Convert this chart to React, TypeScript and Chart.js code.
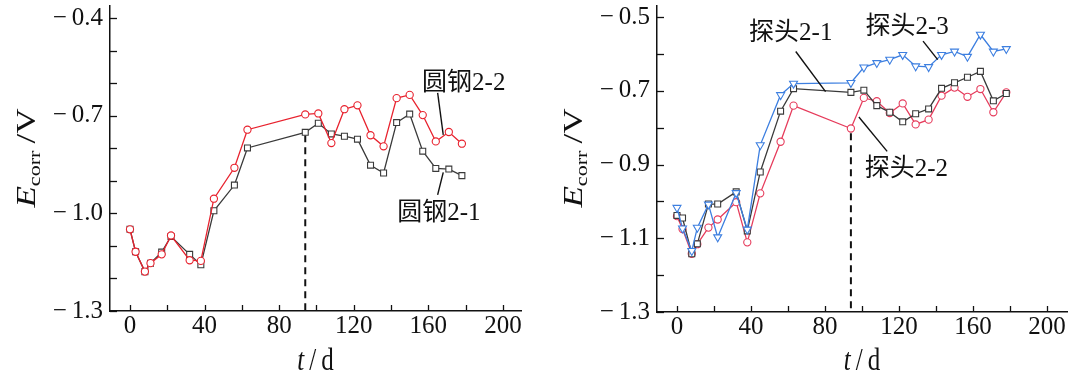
import React, { useEffect, useRef } from 'react';
import { Chart, registerables } from 'chart.js';

Chart.register(...registerables);

// ---------- data ----------
const DAYS = [0, 3, 8, 11, 17, 22, 32, 38, 45, 56, 63, 94, 101, 108, 115, 122, 129, 136, 143, 150, 157, 164, 171, 178];

const STEEL_2_1 = [-1.049, -1.118, -1.179, -1.153, -1.119, -1.071, -1.126, -1.158, -0.992, -0.913, -0.799, -0.751, -0.723, -0.756, -0.763, -0.772, -0.852, -0.876, -0.721, -0.695, -0.809, -0.862, -0.864, -0.884];
const STEEL_2_2 = [-1.049, -1.118, -1.179, -1.153, -1.126, -1.068, -1.144, -1.146, -0.955, -0.86, -0.743, -0.696, -0.693, -0.784, -0.68, -0.668, -0.76, -0.794, -0.646, -0.636, -0.698, -0.779, -0.75, -0.786];

const PROBE_2_1 = [-1.038, -1.045, -1.142, -1.115, -1.007, -1.007, -0.974, -1.08, -0.92, -0.755, -0.694, -0.704, -0.698, -0.74, -0.758, -0.784, -0.762, -0.749, -0.693, -0.678, -0.663, -0.647, -0.727, -0.707];
const PROBE_2_2 = [-1.04, -1.075, -1.142, -1.116, -1.071, -1.049, -1.002, -1.111, -0.978, -0.838, -0.74, -0.802, -0.719, -0.728, -0.76, -0.734, -0.791, -0.778, -0.713, -0.691, -0.716, -0.695, -0.758, -0.704];
const PROBE_2_3 = [-1.017, -1.073, -1.134, -1.071, -1.008, -1.097, -0.977, -1.076, -0.847, -0.711, -0.68, -0.678, -0.636, -0.624, -0.615, -0.602, -0.633, -0.635, -0.602, -0.593, -0.607, -0.547, -0.593, -0.586];

const DASH_DAY = 94;
const LEFT_DASH_V = [-0.76, -1.3];
const RIGHT_DASH_V = [-0.815, -1.3];

const X_TICKS = [0, 20, 40, 60, 80, 100, 120, 140, 160, 180, 200];
const X_LABELS = [0, 40, 80, 120, 160, 200];
const LEFT_Y_TICKS = [-0.4, -0.5, -0.6, -0.7, -0.8, -0.9, -1.0, -1.1, -1.2, -1.3];
const LEFT_Y_LABELS = [-0.4, -0.7, -1.0, -1.3];
const RIGHT_Y_TICKS = [-0.5, -0.6, -0.7, -0.8, -0.9, -1.0, -1.1, -1.2, -1.3];
const RIGHT_Y_LABELS = [-0.5, -0.7, -0.9, -1.1, -1.3];

const LEFT_NOTES = [
  { text: '圆钢2-2', t: 179, v: -0.602, line: [165, -0.63, 168, -0.759] },
  { text: '圆钢2-1', t: 165.7, v: -1.0, line: [165, -0.943, 168, -0.874] },
];
const RIGHT_NOTES = [
  { text: '探头2-1', t: 61.5, v: -0.544, line: [64.2, -0.593, 80.3, -0.702] },
  { text: '探头2-3', t: 124.4, v: -0.527, line: [133, -0.565, 140.9, -0.615] },
  { text: '探头2-2', t: 124, v: -0.913, line: [98.3, -0.771, 113.6, -0.864] },
];

// ---------- styling ----------
const SERIF = '"Liberation Serif", "Times New Roman", serif';
const RED_L = '#e8222e';
const RED_R = '#e63c5c';
const BLACK = '#3a3a3a';
const BLUE = '#3d7fe0';
const W = 540;
const H = 373;

const near = (a: number, b: number) => Math.abs(a - b) < 1e-6;
const fmtY = (v: number) => '\u2212\u2009' + Math.abs(v).toFixed(1);

function series(label: string, values: number[], color: string, style: string, radius: number, rotation = 0) {
  return {
    label,
    data: DAYS.map((d, i) => ({ x: d, y: values[i] })),
    borderColor: color,
    backgroundColor: color,
    borderWidth: 1.3,
    pointStyle: style,
    pointRadius: radius,
    pointRotation: rotation,
    pointBorderColor: color,
    pointBackgroundColor: '#ffffff',
    pointBorderWidth: 1.1,
    tension: 0,
  };
}

function dashSet(vals: number[]) {
  return {
    label: 'dash',
    data: vals.map((v) => ({ x: DASH_DAY, y: v })),
    borderColor: '#111',
    borderWidth: 2,
    borderDash: [7, 5],
    pointRadius: 0,
  };
}

function decoPlugin(notes: any[]) {
  return {
    id: 'deco',
    afterDatasetsDraw(chart: any) {
      const ctx = chart.ctx;
      const xs = chart.scales.x;
      const ys = chart.scales.y;
      const a = chart.chartArea;
      ctx.save();
      ctx.strokeStyle = '#111';
      ctx.lineWidth = 1.3;
      xs.ticks.forEach((tk: any) => {
        const px = Math.round(xs.getPixelForValue(tk.value)) + 0.5;
        ctx.beginPath();
        ctx.moveTo(px, a.bottom);
        ctx.lineTo(px, a.bottom - 6);
        ctx.stroke();
      });
      ys.ticks.forEach((tk: any) => {
        const py = Math.round(ys.getPixelForValue(tk.value)) + 0.5;
        ctx.beginPath();
        ctx.moveTo(a.left, py);
        ctx.lineTo(a.left + 7, py);
        ctx.stroke();
      });
      // annotations
      ctx.fillStyle = '#111';
      ctx.font = '25px ' + SERIF + ', "Noto Sans CJK SC"';
      ctx.textAlign = 'center';
      ctx.textBaseline = 'middle';
      ctx.lineWidth = 1.4;
      notes.forEach((n) => {
        ctx.fillText(n.text, xs.getPixelForValue(n.t), ys.getPixelForValue(n.v));
        const [t1, v1, t2, v2] = n.line;
        ctx.beginPath();
        ctx.moveTo(xs.getPixelForValue(t1), ys.getPixelForValue(v1));
        ctx.lineTo(xs.getPixelForValue(t2), ys.getPixelForValue(v2));
        ctx.stroke();
      });
      ctx.restore();
    },
    afterDraw(chart: any) {
      const ctx = chart.ctx;
      const a = chart.chartArea;
      ctx.save();
      ctx.fillStyle = '#111';
      // y title
      const cx = a.left - 84;
      const cy = 158;
      ctx.translate(cx, cy);
      ctx.rotate(-Math.PI / 2);
      ctx.scale(1.3, 1);
      const parts = [
        { t: 'E', f: 'italic 27px ' + SERIF, dy: 0 },
        { t: 'corr', f: '17px ' + SERIF, dy: 5 },
        { t: '\u2009/V', f: '27px ' + SERIF, dy: 0 },
      ];
      let total = 0;
      parts.forEach((p) => {
        ctx.font = p.f;
        total += ctx.measureText(p.t).width;
      });
      let x = -total / 2;
      ctx.textBaseline = 'alphabetic';
      ctx.textAlign = 'left';
      parts.forEach((p) => {
        ctx.font = p.f;
        ctx.fillText(p.t, x, 9 + p.dy);
        x += ctx.measureText(p.t).width;
      });
      ctx.restore();
      // x title
      ctx.save();
      ctx.fillStyle = '#111';
      const mx = (a.left + a.right) / 2;
      ctx.translate(mx, 370);
      ctx.scale(1, 1.3);
      const xp = [
        { t: 't', f: 'italic 25px ' + SERIF },
        { t: '\u2009/\u2009d', f: '25px ' + SERIF },
      ];
      let tw = 0;
      xp.forEach((p) => {
        ctx.font = p.f;
        tw += ctx.measureText(p.t).width;
      });
      let xx = -tw / 2;
      ctx.textBaseline = 'alphabetic';
      xp.forEach((p) => {
        ctx.font = p.f;
        ctx.fillText(p.t, xx, 0);
        xx += ctx.measureText(p.t).width;
      });
      ctx.restore();
    },
  };
}

interface PanelCfg {
  datasets: any[];
  xMin: number;
  xMax: number;
  yMin: number;
  yMax: number;
  yTicks: number[];
  yLabels: number[];
  yWidth: number;
  xHeight: number;
  padRight: number;
  notes: any[];
}

function buildConfig(p: PanelCfg): any {
  return {
    type: 'line',
    data: { datasets: p.datasets },
    plugins: [decoPlugin(p.notes)],
    options: {
      responsive: false,
      animation: false,
      devicePixelRatio: 1,
      layout: { padding: { left: 0, top: 0, right: p.padRight, bottom: 0 } },
      plugins: { legend: { display: false }, tooltip: { enabled: false } },
      scales: {
        x: {
          type: 'linear',
          min: p.xMin,
          max: p.xMax,
          grid: { display: false, drawTicks: false },
          border: { display: true, color: '#111', width: 1.5 },
          afterBuildTicks: (s: any) => {
            s.ticks = X_TICKS.map((v) => ({ value: v }));
          },
          afterFit: (s: any) => {
            s.height = p.xHeight;
            s.paddingLeft = 0;
            s.paddingRight = 0;
          },
          ticks: {
            autoSkip: false,
            maxRotation: 0,
            padding: 0,
            color: '#111',
            font: { family: SERIF, size: 25 },
            callback: (v: number) => (X_LABELS.some((l) => near(l, v)) ? String(v) : ''),
          },
        },
        y: {
          type: 'linear',
          min: p.yMin,
          max: p.yMax,
          grid: { display: false, drawTicks: false },
          border: { display: true, color: '#111', width: 1.5 },
          afterBuildTicks: (s: any) => {
            s.ticks = p.yTicks.map((v) => ({ value: v }));
          },
          afterFit: (s: any) => {
            s.width = p.yWidth;
            s.paddingTop = 0;
            s.paddingBottom = 0;
          },
          ticks: {
            autoSkip: false,
            padding: 7,
            color: '#111',
            font: { family: SERIF, size: 25 },
            callback: (v: number) => (p.yLabels.some((l) => near(l, v)) ? fmtY(v) : ''),
          },
        },
      },
    },
  };
}

function Panel({ cfg, left }: { cfg: PanelCfg; left: number }) {
  const ref = useRef<HTMLCanvasElement | null>(null);
  useEffect(() => {
    if (!ref.current) return;
    const chart = new Chart(ref.current, buildConfig(cfg));
    return () => chart.destroy();
  }, []);
  return (
    <canvas
      ref={ref}
      width={W}
      height={H}
      style={{ position: 'absolute', left, top: 0, width: W, height: H }}
    />
  );
}

const LEFT_CFG: PanelCfg = {
  datasets: [
    series('圆钢2-2', STEEL_2_2, RED_L, 'circle', 3.6),
    series('圆钢2-1', STEEL_2_1, BLACK, 'rect', 4.2),
    dashSet(LEFT_DASH_V),
  ],
  xMin: -10.72,
  xMax: 209.7,
  yMin: -1.3,
  yMax: -0.3607,
  yTicks: LEFT_Y_TICKS,
  yLabels: LEFT_Y_LABELS,
  yWidth: 110,
  xHeight: 62,
  padRight: 19,
  notes: LEFT_NOTES,
};

const RIGHT_CFG: PanelCfg = {
  datasets: [
    series('探头2-3', PROBE_2_3, BLUE, 'triangle', 4.6, 180),
    series('探头2-1', PROBE_2_1, BLACK, 'rect', 4.2),
    series('探头2-2', PROBE_2_2, RED_R, 'circle', 3.6),
    dashSet(RIGHT_DASH_V),
  ],
  xMin: -10.8,
  xMax: 210.8,
  yMin: -1.3,
  yMax: -0.4688,
  yTicks: RIGHT_Y_TICKS,
  yLabels: RIGHT_Y_LABELS,
  yWidth: 117,
  xHeight: 61,
  padRight: 13,
  notes: RIGHT_NOTES,
};

export default function App() {
  return (
    <div style={{ position: 'fixed', left: 0, top: 0, width: 1080, height: 373, background: '#fff', overflow: 'hidden' }}>
      <Panel cfg={LEFT_CFG} left={0} />
      <Panel cfg={RIGHT_CFG} left={540} />
    </div>
  );
}
